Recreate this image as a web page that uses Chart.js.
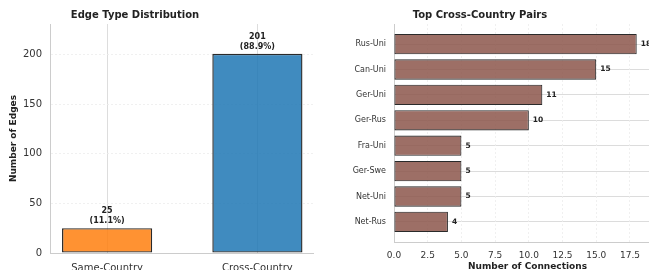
<!DOCTYPE html>
<html>
<head>
<meta charset="utf-8">
<script src="https://cdn.jsdelivr.net/npm/chart.js@4/dist/chart.umd.min.js"></script>
<style>
  html, body { margin: 0; padding: 0; background: #fff; }
  body { width: 649px; height: 270px; overflow: hidden; position: relative; font-family: "DejaVu Sans", sans-serif; }
  .box { position: absolute; top: 0; }
  #left-box  { left: 0;     width: 330px; height: 285px; }
  #right-box { left: 330px; width: 345px; height: 272px; }
  .title { position: absolute; top: 9px; font-weight: bold; font-size: 10px; color: #222; transform: translateX(-50%); white-space: nowrap; }
</style>
</head>
<body>
<div class="box" id="left-box"><canvas id="chart-left"></canvas></div>
<div class="box" id="right-box"><canvas id="chart-right"></canvas></div>
<div class="title" style="left:135px">Edge Type Distribution</div>
<div class="title" style="left:480px">Top Cross-Country Pairs</div>
<script>
  // ── Data ───────────────────────────────────
  const edgeTypes  = ["Same-Country", "Cross-Country"];
  const edgeCounts = [25, 201];
  const edgeColors = ["rgba(255,127,14,0.85)", "rgba(31,119,180,0.85)"];
  const edgeYTicks = [0, 50, 100, 150, 200];

  const pairLabels = ["Rus-Uni", "Can-Uni", "Ger-Uni", "Ger-Rus", "Fra-Uni", "Ger-Swe", "Net-Uni", "Net-Rus"];
  const pairCounts = [18, 15, 11, 10, 5, 5, 5, 4];
  const pairXTicks = [0, 2.5, 5, 7.5, 10, 12.5, 15, 17.5];

  const FONT = "'DejaVu Sans', sans-serif";
  const TICK_COLOR = "#333";
  const SPINE = "#cccccc";

  // ── Left: edge type distribution ───────────
  const edgeTotal = edgeCounts.reduce((a, b) => a + b, 0);

  const edgeLabelsPlugin = {
    id: "edgeLabels",
    afterDatasetsDraw(chart) {
      const ctx = chart.ctx;
      const meta = chart.getDatasetMeta(0);
      ctx.save();
      ctx.font = "bold 8px " + FONT;
      ctx.fillStyle = "#222";
      ctx.textAlign = "center";
      ctx.textBaseline = "middle";
      meta.data.forEach((bar, i) => {
        const v = edgeCounts[i];
        const pct = (v / edgeTotal * 100).toFixed(1);
        ctx.fillText(String(v), bar.x, bar.y - 17);
        ctx.fillText("(" + pct + "%)", bar.x, bar.y - 7);
      });
      ctx.restore();
    }
  };

  new Chart(document.getElementById("chart-left"), {
    type: "bar",
    data: {
      datasets: [{
        data: edgeCounts.map((v, i) => ({ x: i, y: v })),
        backgroundColor: edgeColors,
        borderColor: "#2a2a2a",
        borderWidth: 1.4,
        borderSkipped: false,
        categoryPercentage: 1,
        barPercentage: 0.6
      }]
    },
    options: {
      animation: false,
      responsive: true,
      maintainAspectRatio: false,
      layout: { padding: { top: 24, right: 17, left: 0, bottom: 0 } },
      plugins: { legend: { display: false }, tooltip: { enabled: false } },
      scales: {
        x: {
          type: "linear",
          offset: false,
          min: -0.38,
          max: 1.37,
          ticks: {
            stepSize: 1,
            includeBounds: false,
            padding: 9,
            color: TICK_COLOR,
            font: { family: FONT, size: 10 },
            callback: (v) => edgeTypes[v] ?? ""
          },
          grid: { offset: false, color: "#dddddd", lineWidth: 1, drawTicks: false },
          border: { color: SPINE, width: 1 },
          afterFit: (s) => { s.height = 32; }
        },
        y: {
          min: 0,
          max: 231,
          afterBuildTicks: (s) => { s.ticks = edgeYTicks.map((v) => ({ value: v })); },
          ticks: {
            padding: 8,
            color: TICK_COLOR,
            font: { family: FONT, size: 10 }
          },
          grid: { color: "#ececec", lineWidth: 0.8, drawTicks: false },
          border: { color: SPINE, width: 1, dash: [2, 2] },
          title: {
            display: true,
            text: "Number of Edges",
            color: "#222",
            font: { family: FONT, size: 9, weight: "bold" },
            padding: { top: 8, bottom: 0 }
          },
          afterFit: (s) => { s.width = 50; }
        }
      }
    },
    plugins: [edgeLabelsPlugin]
  });

  // ── Right: top cross-country pairs ─────────
  const pairLabelsPlugin = {
    id: "pairLabels",
    afterDatasetsDraw(chart) {
      const ctx = chart.ctx;
      const meta = chart.getDatasetMeta(0);
      ctx.save();
      ctx.font = "bold 7.5px " + FONT;
      ctx.fillStyle = "#222";
      ctx.textAlign = "left";
      ctx.textBaseline = "middle";
      meta.data.forEach((bar, i) => {
        ctx.fillText(String(pairCounts[i]), bar.x + 4, bar.y);
      });
      ctx.restore();
    }
  };

  new Chart(document.getElementById("chart-right"), {
    type: "bar",
    data: {
      datasets: [{
        data: pairCounts.map((v, i) => ({ x: v, y: i })),
        backgroundColor: "rgba(140,86,75,0.85)",
        borderColor: "#2a2a2a",
        borderWidth: 1.1,
        borderSkipped: false,
        categoryPercentage: 1,
        barPercentage: 0.8
      }]
    },
    options: {
      indexAxis: "y",
      animation: false,
      responsive: true,
      maintainAspectRatio: false,
      layout: { padding: { top: 24, right: 14, left: 0, bottom: 0 } },
      plugins: { legend: { display: false }, tooltip: { enabled: false } },
      scales: {
        y: {
          type: "linear",
          offset: false,
          reverse: true,
          min: -0.79,
          max: 7.79,
          ticks: {
            stepSize: 1,
            includeBounds: false,
            padding: 8,
            color: TICK_COLOR,
            font: { family: FONT, size: 8 },
            callback: (v) => pairLabels[v] ?? ""
          },
          grid: { offset: false, color: "#dcdcdc", lineWidth: 1, drawTicks: false },
          border: { color: SPINE, width: 1 },
          afterFit: (s) => { s.width = 64; }
        },
        x: {
          min: 0,
          max: 19.8,
          afterBuildTicks: (s) => { s.ticks = pairXTicks.map((v) => ({ value: v })); },
          ticks: {
            padding: 8,
            maxRotation: 0,
            color: TICK_COLOR,
            font: { family: FONT, size: 9 },
            callback: (v) => Number(v).toFixed(1)
          },
          grid: { color: "#ececec", lineWidth: 0.8, drawTicks: false },
          border: { color: SPINE, width: 1, dash: [2, 2] },
          title: {
            display: true,
            text: "Number of Connections",
            color: "#222",
            font: { family: FONT, size: 9, weight: "bold" },
            padding: { top: 0, bottom: 0 }
          },
          afterFit: (s) => { s.height = 30; }
        }
      }
    },
    plugins: [pairLabelsPlugin]
  });
</script>
</body>
</html>
